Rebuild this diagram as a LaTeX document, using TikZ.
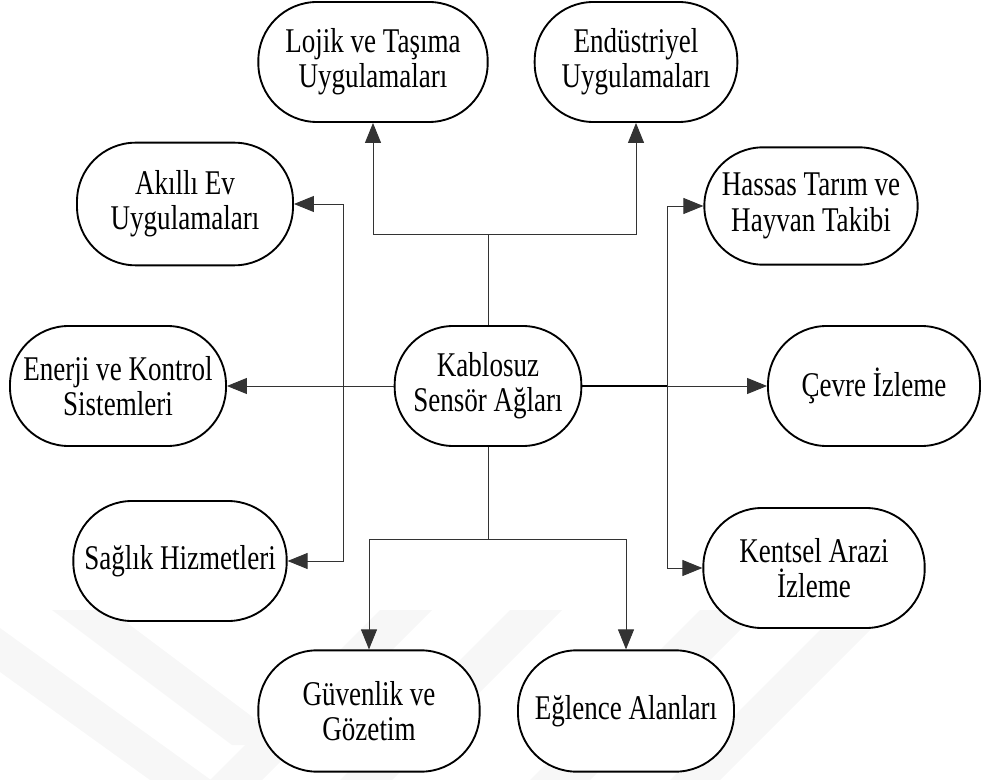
\documentclass[tikz,border=0pt]{standalone}
\usepackage{fontspec}
\setmainfont{Liberation Serif}[FakeStretch=0.78]
\usetikzlibrary{arrows.meta}

\begin{document}
\begin{tikzpicture}[x=0.75pt,y=-0.75pt,
  app/.style={draw, line width=1.4pt, fill=white, rounded corners=44pt,
    align=center, inner sep=0pt, minimum height=90pt,
    font=\fontsize{26}{26.5}\selectfont},
  link/.style={line width=0.7pt, draw=black!80},
  arr/.style={link, -{Triangle[length=15pt,width=12pt]}},
  wm/.style={fill=black!3, draw=none}]

\useasboundingbox (0,0) rectangle (981,780);

% faint background stripes
\fill[wm] (52,610) -- (110,610) -- (290,745) -- (232,745) -- cycle;
\fill[wm] (0,628) -- (0,672) -- (150,780) -- (211,780) -- cycle;
\fill[wm] (380,610) -- (432,610) -- (262,780) -- (210,780) -- cycle;
\fill[wm] (510,610) -- (562,610) -- (392,780) -- (340,780) -- cycle;
\fill[wm] (700,610) -- (760,610) -- (590,780) -- (530,780) -- cycle;
\fill[wm] (820,630) -- (870,630) -- (720,780) -- (670,780) -- cycle;

% central node
\node[app, minimum width=140pt] (wsn) at (488,386) {Kablosuz\\Sensör Ağları};

% application areas
\node[app, minimum width=172pt] (lojik) at (373,62) {Lojik ve Taşıma\\Uygulamaları};
\node[app, minimum width=152pt] (endu) at (636,62) {Endüstriyel\\Uygulamaları};
\node[app, minimum width=162pt, minimum height=92pt] (akilli) at (185,204) {Akıllı Ev\\Uygulamaları};
\node[app, minimum width=162pt] (enerji) at (118,386) {Enerji ve Kontrol\\Sistemleri};
\node[app, minimum width=160pt] (saglik) at (180,561) {Sağlık Hizmetleri};
\node[app, minimum width=160pt, minimum height=88pt] (hassas) at (811,206) {Hassas Tarım ve\\Hayvan Takibi};
\node[app, minimum width=159pt] (cevre) at (874,386) {Çevre İzleme};
\node[app, minimum width=166pt] (kentsel) at (814,568) {Kentsel Arazi\\İzleme};
\node[app, minimum width=166pt, minimum height=91pt] (guven) at (369,711) {Güvenlik ve\\Gözetim};
\node[app, minimum width=162pt, minimum height=91pt] (eglence) at (626,711) {Eğlence Alanları};

% branching points
\coordinate (jtop) at (488,234);
\coordinate (jleft) at (343,386);
\coordinate (jright) at (667,386);
\coordinate (jbot) at (488,539);

% upward branch
\draw[link] (wsn.north) -- (jtop);
\draw[arr] (jtop) -| (lojik.south);
\draw[arr] (jtop) -| (endu.south);

% left branch
\draw[arr] (wsn.west) -- (enerji.east);
\draw[arr] (jleft) |- (akilli.east);
\draw[arr] (jleft) |- (saglik.east);

% right branch
\draw[line width=1.2pt] (wsn.east) -- (jright);
\draw[arr] (jright) -- (cevre.west);
\draw[arr] (jright) |- (hassas.west);
\draw[arr] (jright) |- (kentsel.west);

% downward branch
\draw[link] (wsn.south) -- (jbot);
\draw[arr] (jbot) -| (guven.north);
\draw[arr] (jbot) -| (eglence.north);
\end{tikzpicture}
\end{document}
